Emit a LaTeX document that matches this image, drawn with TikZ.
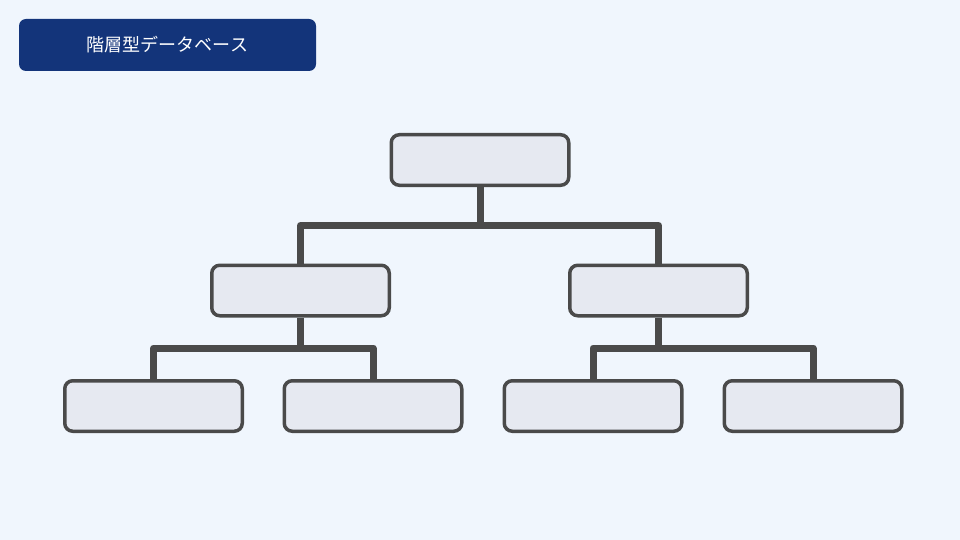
\documentclass[tikz,border=0pt]{standalone}
\usepackage{fontspec}
\setmainfont{Noto Sans CJK JP}
\definecolor{bg}{HTML}{F0F6FD}
\definecolor{boxfill}{HTML}{E6E9F1}
\definecolor{edge}{HTML}{4A4A4A}
\definecolor{titleblue}{HTML}{13347A}
\begin{document}
\begin{tikzpicture}[x=1pt,y=-1pt,
  nodebox/.style={draw=edge,fill=boxfill,line width=3.5pt,rounded corners=8pt,minimum width=177.5pt,minimum height=50.5pt,inner sep=0pt},
  link/.style={draw=edge,line width=7pt,line join=round}]
\fill[bg] (0,0) rectangle (960,540);
\useasboundingbox (0,0) rectangle (960,540);
\node[fill=titleblue,rounded corners=7pt,minimum width=297pt,minimum height=52pt,inner sep=0pt,text=white,font=\fontsize{18}{21}\selectfont] (title) at (167.5,45) {階層型データベース};
\node[nodebox] (top) at (480,160) {};
\node[nodebox] (midL) at (300.5,290.5) {};
\node[nodebox] (midR) at (658.5,290.5) {};
\node[nodebox] (b1) at (153.5,406) {};
\node[nodebox] (b2) at (373,406) {};
\node[nodebox] (b3) at (593,406) {};
\node[nodebox] (b4) at (813,406) {};
\coordinate (j1) at (480,225.5);
\coordinate (j2) at (300.5,348);
\coordinate (j3) at (658.5,348);
\draw[link] (top.south) -- (j1);
\draw[link] (midL.north) -- (midL.north |- j1) -- (midR.north |- j1) -- (midR.north);
\draw[link] (midL.south) -- (j2);
\draw[link] (b1.north) -- (b1.north |- j2) -- (b2.north |- j2) -- (b2.north);
\draw[link] (midR.south) -- (j3);
\draw[link] (b3.north) -- (b3.north |- j3) -- (b4.north |- j3) -- (b4.north);
\end{tikzpicture}
\end{document}
